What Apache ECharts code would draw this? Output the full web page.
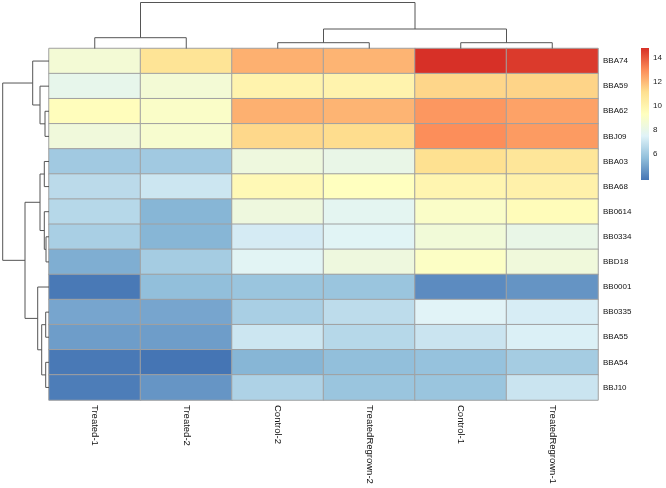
<!DOCTYPE html>
<html><head><meta charset="utf-8">
<script src="https://cdn.jsdelivr.net/npm/echarts@6/dist/echarts.min.js"></script>
<style>html,body{margin:0;padding:0;background:#fff}#c{width:666px;height:488px}</style>
</head><body><div id="c"></div>
<script>
// ---------- data ----------
const columns = ['Treated-1','Treated-2','Control-2','TreatedRegrown-2','Control-1','TreatedRegrown-1'];
const rows = ['BBA74','BBA59','BBA62','BBJ09','BBA03','BBA68','BB0614','BB0334','BBD18','BB0001','BB0335','BBA55','BBA54','BBJ10'];

const treated1        = [8.6, 7.9, 9.4, 8.4, 6.0, 6.6, 6.5, 6.2, 5.2, 3.9, 5.0, 4.8, 3.9, 4.0];
const treated2        = [10.9, 8.6, 9.0, 8.8, 6.0, 7.0, 5.4, 5.4, 6.1, 5.65, 5.0, 4.8, 3.8, 4.6];
const control2        = [12.2, 10.0, 12.2, 11.3, 8.3, 9.65, 8.3, 7.2, 7.6, 5.85, 6.2, 7.0, 5.4, 6.3];
const treatedRegrown2 = [12.1, 10.0, 12.1, 11.2, 8.0, 9.3, 7.7, 7.55, 8.3, 5.85, 6.65, 6.5, 5.65, 5.85];
const control1        = [14.8, 11.35, 12.75, 12.95, 11.1, 9.9, 9.0, 8.5, 9.1, 4.35, 7.5, 6.95, 5.75, 5.85];
const treatedRegrown1 = [14.6, 11.4, 12.5, 12.65, 10.8, 10.1, 9.5, 8.0, 8.4, 4.57, 7.25, 7.35, 6.1, 6.95];

// hclust-style merges: negative = leaf -(index+1), positive = earlier merge (1-based)
const colMergeA = [-1, -3, -5, 2, 1];
const colMergeB = [-2, -4, -6, 3, 4];
const colMergeH = [10.8, 5.8, 5.8, 19.5, 46];

const rowMergeA = [-3, -2, -1, -5, -8, -7, 4, -11, -13, 8, -10, 7, 3];
const rowMergeB = [-4, 1, 2, -6, -9, 5, 6, -12, -14, 9, 10, 11, 12];
const rowMergeH = [4, 9, 16.3, 4.7, 3, 4.7, 9, 3.3, 3.3, 7.3, 11.3, 24, 46.3];

const colorMin = 3.8, colorMax = 14.8;
const colorTicks = [6, 8, 10, 12, 14];
const palette = ['#4575B4','#91BFDB','#E0F3F8','#FFFFBF','#FEE090','#FC8D59','#D73027'];

// ---------- build ----------
const colSeries = [treated1, treated2, control2, treatedRegrown2, control1, treatedRegrown1];
const heatData = [];
colSeries.forEach((arr, c) => arr.forEach((v, r) => heatData.push([c, r, v])));

function buildDendro(A, B, H) {
  const pos = [], hts = [], segs = [];
  const get = (id) => id < 0 ? [-id - 1, 0] : [pos[id - 1], hts[id - 1]];
  for (let i = 0; i < A.length; i++) {
    const [pa, ha] = get(A[i]);
    const [pb, hb] = get(B[i]);
    pos.push((pa + pb) / 2); hts.push(H[i]);
    segs.push([pa, pb, H[i], ha, hb]);
  }
  return segs;
}
const colSegs = buildDendro(colMergeA, colMergeB, colMergeH);
const rowSegs = buildDendro(rowMergeA, rowMergeB, rowMergeH);

const FONT = '"Liberation Sans", Arial, sans-serif';
const lineStyle = { stroke: '#555', lineWidth: 1, fill: null };

const chart = echarts.init(document.getElementById('c'), null, { renderer: 'canvas' });
chart.setOption({
  animation: false,
  backgroundColor: '#ffffff',
  grid: [
    { left: 49, top: 48.5, width: 549, height: 351.5 },
    { left: 49, top: 0, width: 549, height: 48.5 },
    { left: 0, top: 48.5, width: 49, height: 351.5 },
    { left: 641, top: 48, width: 8, height: 132 }
  ],
  xAxis: [
    { type: 'category', gridIndex: 0, data: columns, position: 'bottom',
      axisLine: { show: false }, axisTick: { show: false }, splitLine: { show: false },
      axisLabel: { rotate: -90, fontSize: 9.5, margin: 5, color: '#111', fontFamily: FONT, interval: 0 } },
    { type: 'value', gridIndex: 1, min: -0.5, max: 5.5, show: false },
    { type: 'value', gridIndex: 2, min: 0, max: 49, inverse: true, show: false },
    { type: 'value', gridIndex: 3, min: 0, max: 1, show: false }
  ],
  yAxis: [
    { type: 'category', gridIndex: 0, data: rows, inverse: true, position: 'right',
      axisLine: { show: false }, axisTick: { show: false }, splitLine: { show: false },
      axisLabel: { fontSize: 8, margin: 5, color: '#111', fontFamily: FONT, interval: 0 } },
    { type: 'value', gridIndex: 1, min: 0, max: 48.5, show: false },
    { type: 'value', gridIndex: 2, min: -0.5, max: 13.5, inverse: true, show: false },
    { type: 'value', gridIndex: 3, min: colorMin, max: colorMax, position: 'right',
      axisLine: { show: false }, axisTick: { show: false }, splitLine: { show: false },
      axisLabel: { customValues: colorTicks, fontSize: 8, margin: 4, color: '#222', fontFamily: FONT } }
  ],
  visualMap: {
    type: 'continuous', seriesIndex: 0, min: colorMin, max: colorMax, show: false,
    inRange: { color: palette }
  },
  series: [
    { type: 'heatmap', xAxisIndex: 0, yAxisIndex: 0, data: heatData,
      itemStyle: { borderColor: '#a0a0a0', borderWidth: 1 },
      emphasis: { disabled: true }, label: { show: false } },
    { type: 'custom', xAxisIndex: 1, yAxisIndex: 1, data: colSegs, clip: false, silent: true,
      renderItem: (params, api) => {
        const xl = api.value(0), xr = api.value(1), h = api.value(2), hl = api.value(3), hr = api.value(4);
        return { type: 'polyline', shape: { points: [api.coord([xl, hl]), api.coord([xl, h]), api.coord([xr, h]), api.coord([xr, hr])] }, style: lineStyle };
      } },
    { type: 'custom', xAxisIndex: 2, yAxisIndex: 2, data: rowSegs, clip: false, silent: true,
      renderItem: (params, api) => {
        const yl = api.value(0), yr = api.value(1), h = api.value(2), hl = api.value(3), hr = api.value(4);
        return { type: 'polyline', shape: { points: [api.coord([hl, yl]), api.coord([h, yl]), api.coord([h, yr]), api.coord([hr, yr])] }, style: lineStyle };
      } },
    // colour key: one gradient bar spanning the data range on its own axis
    { type: 'custom', xAxisIndex: 3, yAxisIndex: 3, data: [[0, colorMin, 1, colorMax]], silent: true,
      renderItem: (params, api) => {
        const p0 = api.coord([api.value(0), api.value(3)]);
        const p1 = api.coord([api.value(2), api.value(1)]);
        const stops = palette.slice().reverse().map((c, i) => ({ offset: i / (palette.length - 1), color: c }));
        return { type: 'rect', shape: { x: p0[0], y: p0[1], width: p1[0] - p0[0], height: p1[1] - p0[1] },
          style: { fill: new echarts.graphic.LinearGradient(0, 0, 0, 1, stops) } };
      } }
  ]
});
</script>
</body></html>
